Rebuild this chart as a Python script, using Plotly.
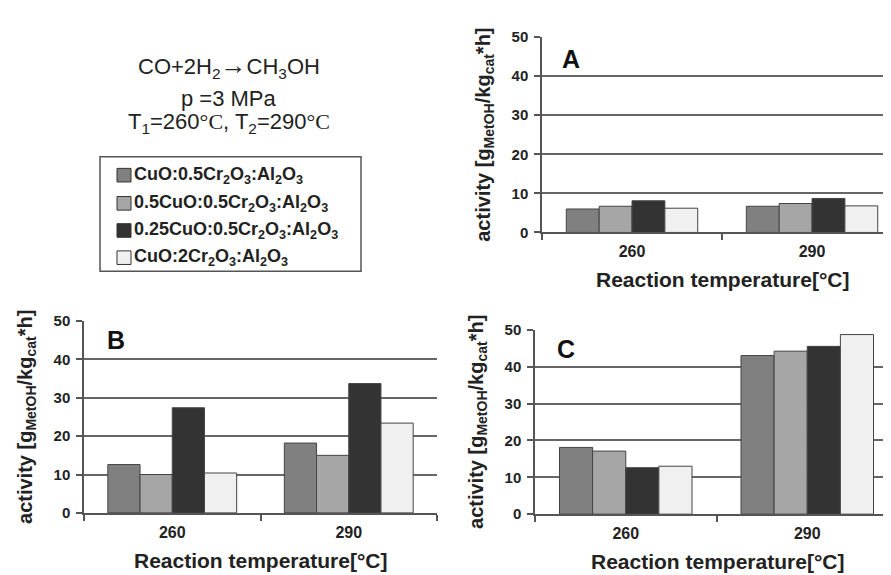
import plotly.graph_objects as go

categories = ["260", "290"]
series_names = [
    "CuO:0.5Cr<sub>2</sub>O<sub>3</sub>:Al<sub>2</sub>O<sub>3</sub>",
    "0.5CuO:0.5Cr<sub>2</sub>O<sub>3</sub>:Al<sub>2</sub>O<sub>3</sub>",
    "0.25CuO:0.5Cr<sub>2</sub>O<sub>3</sub>:Al<sub>2</sub>O<sub>3</sub>",
    "CuO:2Cr<sub>2</sub>O<sub>3</sub>:Al<sub>2</sub>O<sub>3</sub>",
]
colors = ["#808080", "#a6a6a6", "#333333", "#f0f0f0"]

# panel A
A_s1 = [6.0, 6.7]
A_s2 = [6.7, 7.4]
A_s3 = [8.1, 8.7]
A_s4 = [6.2, 6.8]
# panel B
B_s1 = [12.6, 18.2]
B_s2 = [10.0, 15.0]
B_s3 = [27.4, 33.7]
B_s4 = [10.4, 23.4]
# panel C
C_s1 = [18.1, 43.0]
C_s2 = [17.1, 44.2]
C_s3 = [12.6, 45.5]
C_s4 = [13.0, 48.7]

yticks = [0, 10, 20, 30, 40, 50]

FONT = "Arial, Liberation Sans, sans-serif"
W, H = 891, 575

fig = go.Figure()

panels = [
    ("x", "y", [A_s1, A_s2, A_s3, A_s4]),
    ("x2", "y2", [B_s1, B_s2, B_s3, B_s4]),
    ("x3", "y3", [C_s1, C_s2, C_s3, C_s4]),
]
for xa, ya, data in panels:
    for i, vals in enumerate(data):
        fig.add_trace(go.Bar(
            x=categories, y=vals, name=series_names[i], xaxis=xa, yaxis=ya,
            marker=dict(color=colors[i], line=dict(color="#444444", width=1)),
            showlegend=False,
        ))

def px_x(p):
    return p / W

def px_y(p):
    return 1 - p / H

# geometry (pixels): left, right, top, bottom, x-range end
geo = {
    "A": (534, 891, 20.7, 222, 1.483),
    "B": (76, 429, 313.3, 511, 1.5),
    "C": (527, 891, 322.3, 512.3, 1.5055),
}

axis_common_x = dict(
    type="category", showline=True, linecolor="#555555", linewidth=1.5,
    ticks="outside", tickson="boundaries", ticklen=6, tickcolor="#555555", tickwidth=1.5,
    showgrid=False, tickfont=dict(family=FONT, size=16, color="#222222", weight="bold"),
    ticklabelstandoff=4,
)
axis_common_y = dict(
    range=[0, 50], tickvals=yticks, showline=True, linecolor="#555555", linewidth=1.5,
    ticks="outside", ticklen=6, tickcolor="#555555", tickwidth=1.5,
    showgrid=True, gridcolor="#666666", gridwidth=1.5,
    tickfont=dict(family=FONT, size=15, color="#222222", weight="bold"), zeroline=False,
    ticklabelstandoff=3,
)

layout_axes = {}
names = [("xaxis", "yaxis", "A"), ("xaxis2", "yaxis2", "B"), ("xaxis3", "yaxis3", "C")]
for k, (xn, yn, p) in enumerate(names):
    l, r, t, b, xr = geo[p]
    anchor_y = "y" if k == 0 else f"y{k+1}"
    anchor_x = "x" if k == 0 else f"x{k+1}"
    layout_axes[xn] = dict(axis_common_x, domain=[px_x(l), min(1.0, px_x(r))],
                           range=[-0.5, xr], anchor=anchor_y)
    layout_axes[yn] = dict(axis_common_y, domain=[px_y(b), px_y(t)], anchor=anchor_x)

fig.update_layout(
    width=W, height=H, margin=dict(l=0, r=0, t=0, b=0),
    paper_bgcolor="white", plot_bgcolor="white",
    barmode="group", bargap=0.27, bargroupgap=0,
    font=dict(family=FONT, color="#222222"),
    **layout_axes,
)

ytitle = "<b>activity [g<sub>MetOH</sub>/kg<sub>cat</sub>*h]</b>"
xtitle = "<b>Reaction temperature[°C]</b>"

ann = []
for p, letter_pos in [("A", (563, 43)), ("B", (108, 333)), ("C", (558, 342))]:
    l, r, t, b, xr = geo[p]
    cx = (l + 894) / 2 if p == "A" else (l + r) / 2
    ann.append(dict(x=px_x(l - 57), y=px_y((t + b) / 2), xref="paper", yref="paper",
                    text=ytitle, textangle=-90, showarrow=False,
                    font=dict(family=FONT, size=20, color="#222222"),
                    xanchor="center", yanchor="middle"))
    ann.append(dict(x=px_x(cx), y=px_y(b + 49), xref="paper", yref="paper",
                    text=xtitle, showarrow=False,
                    font=dict(family=FONT, size=21, color="#222222"),
                    xanchor="center", yanchor="middle"))
    ann.append(dict(x=px_x(letter_pos[0]), y=px_y(letter_pos[1]), xref="paper", yref="paper",
                    text=f"<b>{p}</b>", showarrow=False,
                    font=dict(family=FONT, size=25, color="#111111"),
                    xanchor="center", yanchor="middle"))

# reaction conditions text
serif = "<span style='font-family:Liberation Serif, Times New Roman, serif'>°C</span>"
cond_lines = [
    ("CO+2H<sub>2</sub><span style='font-size:26px'>→</span>CH<sub>3</sub>OH", 50),
    ("p =3 MPa", 84),
    (f"T<sub>1</sub>=260{serif}, T<sub>2</sub>=290{serif}", 109),
]
for txt, yy in cond_lines:
    ann.append(dict(x=px_x(221), y=px_y(yy), xref="paper", yref="paper", text=txt,
                    showarrow=False, font=dict(family=FONT, size=22, color="#222222"),
                    xanchor="center", yanchor="middle"))

# custom legend
shapes = [dict(type="rect", xref="paper", yref="paper",
               x0=px_x(92), x1=px_x(353), y0=px_y(262), y1=px_y(144),
               line=dict(color="#555555", width=1.5), fillcolor="white", layer="below")]
rows = [163, 192, 220, 248]
for i, yy in enumerate(rows):
    shapes.append(dict(type="rect", xref="paper", yref="paper",
                       x0=px_x(109), x1=px_x(123), y0=px_y(yy + 7), y1=px_y(yy - 7),
                       line=dict(color="#333333", width=1), fillcolor=colors[i]))
    ann.append(dict(x=px_x(124), y=px_y(yy), xref="paper", yref="paper",
                    text=f"<b>{series_names[i]}</b>", showarrow=False,
                    font=dict(family=FONT, size=18, color="#222222"),
                    xanchor="left", yanchor="middle"))

fig.update_layout(annotations=ann, shapes=shapes)
fig.write_html("out.html")
